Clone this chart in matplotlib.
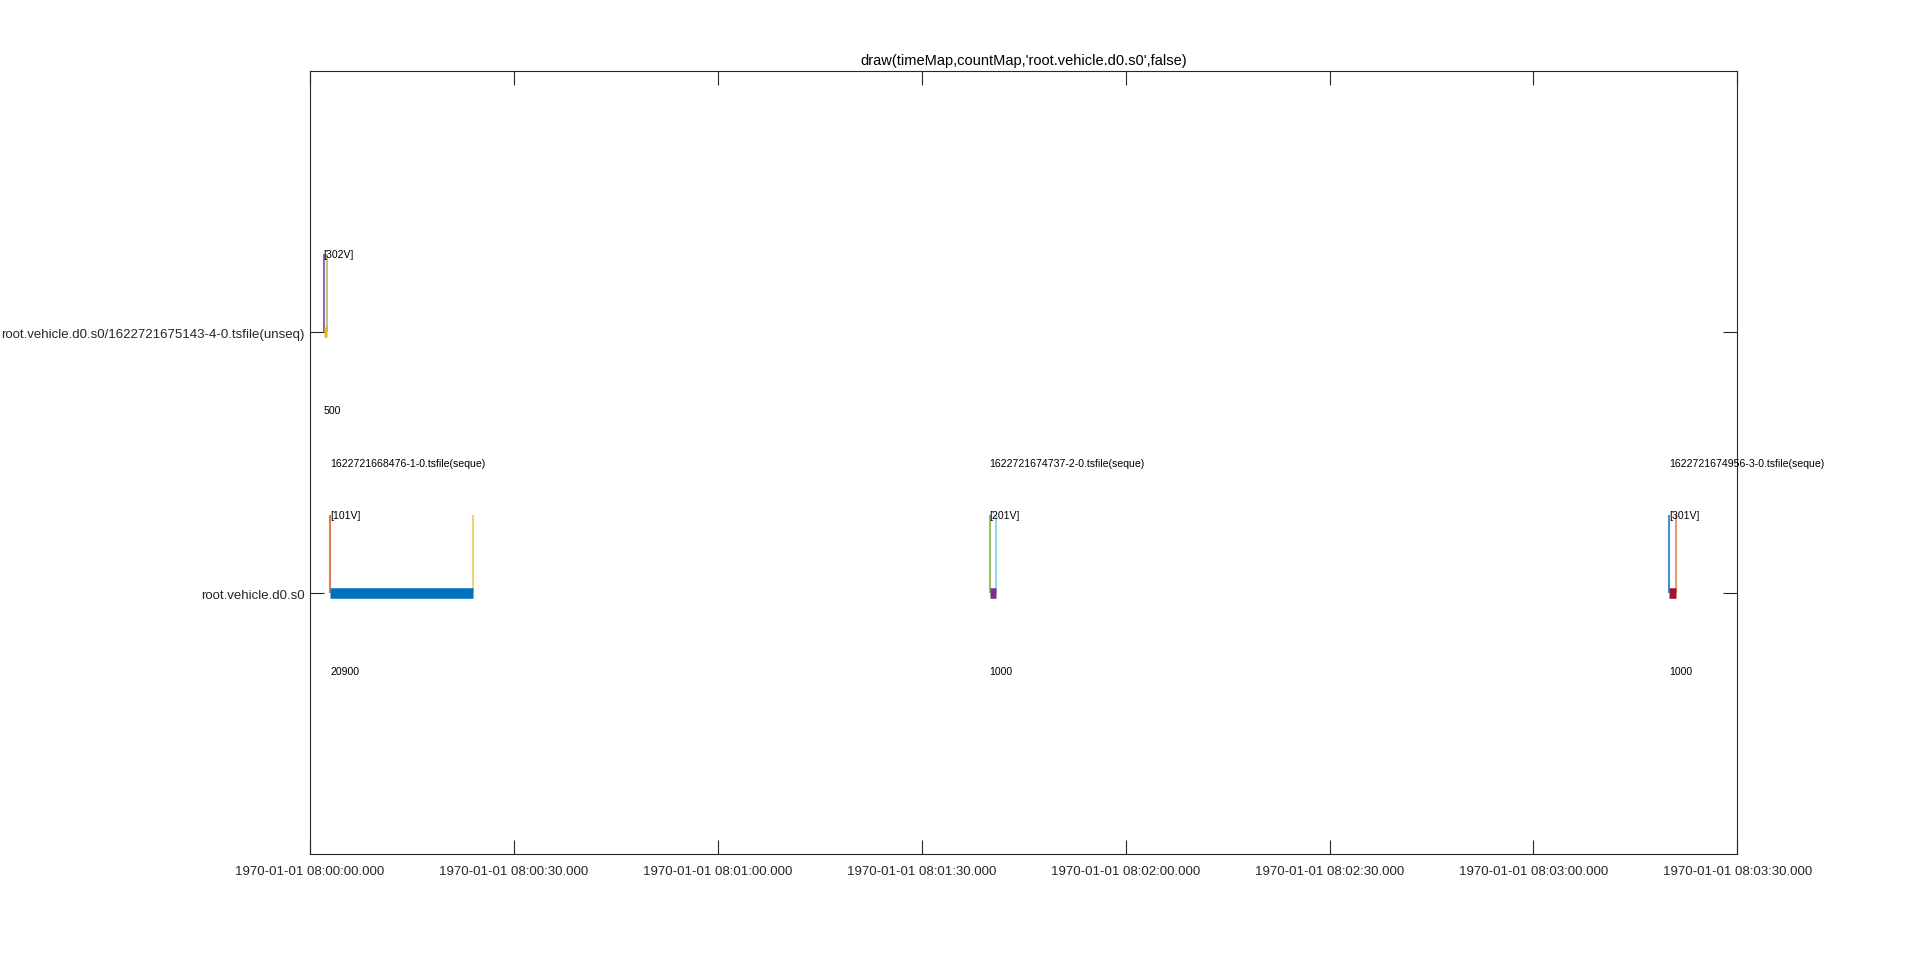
import matplotlib
matplotlib.use("Agg")
import matplotlib.pyplot as plt
from matplotlib.ticker import FuncFormatter, FixedLocator
from datetime import datetime, timezone, timedelta

plt.rcParams['font.family'] = ['Liberation Sans', 'DejaVu Sans']

# ---- data ----
row_labels = ['root.vehicle.d0.s0', 'root.vehicle.d0.s0/1622721675143-4-0.tsfile(unseq)']
row_pos = [1, 2]
file_names = ['1622721668476-1-0.tsfile(seque)', '1622721674737-2-0.tsfile(seque)',
              '1622721674956-3-0.tsfile(seque)', '']
file_row = [1, 1, 1, 2]
start_s = [3.0, 100.0, 200.0, 2.0]
end_s = [24.0, 101.0, 201.0, 2.5]
counts = [20900, 1000, 1000, 500]
value_labels = ['[101V]', '[201V]', '[301V]', '[302V]']
bar_colors = ['#0072BD', '#7E2F8E', '#A2142F', '#EDB120']
start_line_colors = ['#D95319', '#77AC30', '#0072BD', '#7E2F8E']
end_line_colors = ['#EDB120', '#4DBEEE', '#D95319', '#77AC30']
x_ticks = [0, 30, 60, 90, 120, 150, 180, 210]

title = "draw(timeMap,countMap,'root.vehicle.d0.s0',false)"
tz = timezone(timedelta(hours=8))

fig = plt.figure(figsize=(19.2, 9.62), dpi=100)
ax = fig.add_axes([310/1920, 1 - 855/962, (1737.3 - 310)/1920, (855 - 72.3)/962])

dark = '#262626'
for i in range(len(start_s)):
    y = file_row[i]
    ax.plot([start_s[i], start_s[i]], [y, y + 0.3], color=start_line_colors[i],
            lw=1.5, alpha=0.75, solid_capstyle='butt', zorder=2)
    ax.plot([end_s[i], end_s[i]], [y, y + 0.3], color=end_line_colors[i],
            lw=1.5, alpha=0.6, solid_capstyle='butt', zorder=2)
    ax.plot([start_s[i], end_s[i]], [y, y], color=bar_colors[i], lw=7.6,
            solid_capstyle='butt', zorder=3)
    ax.text(start_s[i], y + 0.3, value_labels[i], fontsize=7.6, color='black',
            ha='left', va='center', zorder=4)
    ax.text(start_s[i], y - 0.3, str(counts[i]), fontsize=7.6, color='black',
            ha='left', va='center', zorder=4)
    if file_names[i]:
        ax.text(start_s[i], y + 0.5, file_names[i], fontsize=7.6, color='black',
                ha='left', va='center', zorder=4)

ax.set_xlim(0, 210)
ax.set_ylim(0, 3)
ax.xaxis.set_major_locator(FixedLocator(x_ticks))
ax.xaxis.set_major_formatter(FuncFormatter(
    lambda v, p: datetime.fromtimestamp(v, tz).strftime('%Y-%m-%d %H:%M:%S') + '.000'))
ax.set_yticks(row_pos)
ax.set_yticklabels(row_labels)

ax.tick_params(axis='both', direction='in', length=10, width=0.8, colors=dark,
               labelsize=9.5, top=True, right=True, labelcolor=dark)
ax.tick_params(axis='x', pad=8)
ax.tick_params(axis='y', pad=4)
for s in ax.spines.values():
    s.set_color(dark)
    s.set_linewidth(0.8)

ax.set_title(title, fontsize=10.5, color='black', pad=5)

fig.savefig('out.png', dpi=100, facecolor='white')
